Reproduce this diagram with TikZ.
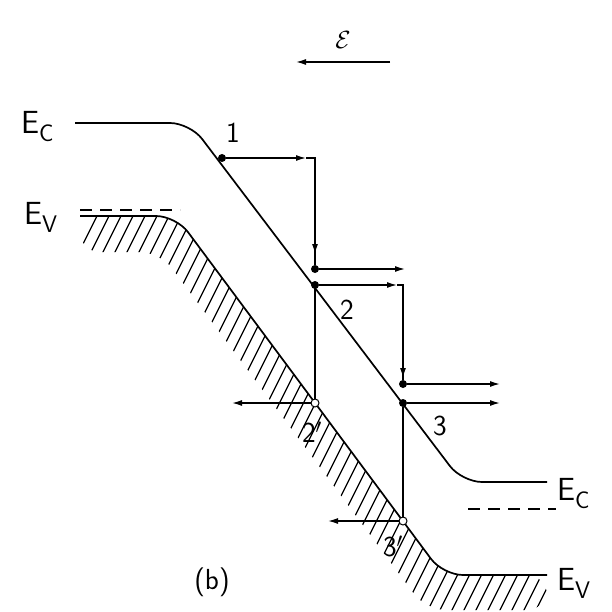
\documentclass[tikz,border=0pt]{standalone}
\usepackage{fontspec}
\usetikzlibrary{arrows.meta}
\begin{document}
\begin{tikzpicture}[
                x=1pt, y=-1pt,
                band/.style={line width=1.7pt, rounded corners=20pt},
                arr/.style={-{Latex[length=10pt,width=6pt]}, line width=1.4pt},
                link/.style={line width=1.3pt},
                hatch/.style={line width=1.2pt},
                dashline/.style={line width=1.5pt, dash pattern=on 12pt off 8pt},
                dot/.style={circle, fill, inner sep=0pt, minimum size=8pt},
                hole/.style={circle, draw, fill=white, inner sep=0pt, minimum size=8pt, line width=1pt},
                num/.style={font=\sffamily\fontsize{29}{31}\selectfont, inner sep=0pt},
                lvl/.style={font=\sffamily\fontsize{32}{34}\selectfont, inner sep=0pt, anchor=base west}
            ]
            \useasboundingbox (0,0) rectangle (612,612);
            \newcommand{\sub}[1]{\raisebox{-8pt}{\fontsize{24}{24}\selectfont #1}}
            % hatching under the valence band
            \begin{scope}
                \clip[rounded corners=20pt] (80,216) -- (176,216) -- (443,575) -- (547,575)
                    -- (547,610) -- (426,610) -- (160,252) -- (80,252) -- cycle;
                \foreach \i in {-12,...,44}
                    \draw[hatch] ({\i*12},650) -- ++(325,-650);
            \end{scope}
            % bands
            \draw[band] (75,123) -- (190,123) -- (462,482) -- (547,482);
            \draw[band] (80,216) -- (176,216) -- (443,575) -- (547,575);
            \draw[dashline] (80,210) -- (180,210);
            \draw[dashline] (468,509) -- (556,509);
            % level labels
            \node[lvl] (ectop) at (21,134) {E\sub{C}};
            \node[lvl] (evtop) at (24,224) {E\sub{V}};
            \node[lvl] (ecbot) at (557,500) {E\sub{C}};
            \node[lvl] (evbot) at (557,590) {E\sub{V}};
            % field
            \coordinate (fa) at (390,62);
            \coordinate (fb) at (296,62);
            \draw[arr] (fa) -- (fb);
            \node[font=\fontsize{32}{34}\selectfont] (field) at (343,40) {$\mathcal{E}$};
            % electrons and holes
            \node[dot] (d1) at (222,158) {};
            \node[dot] (t1) at (315,269) {};
            \node[dot] (d2) at (315,285) {};
            \node[dot] (t2) at (403,384) {};
            \node[dot] (d3) at (403,403) {};
            \node[hole] (h2) at (315,403) {};
            \node[hole] (h3) at (403,521) {};
            \coordinate (p1) at (306,158);
            \coordinate (c1) at (315,158);
            \coordinate (q1) at (315,254);
            \coordinate (p2) at (397,285);
            \coordinate (c2) at (403,285);
            \coordinate (q2) at (403,378);
            \coordinate (e1) at (405,269);
            \coordinate (e2) at (500,384);
            \coordinate (e3) at (500,403);
            \coordinate (e4) at (232,403);
            \coordinate (e5) at (328,521);
            \draw[arr] (d1) -- (p1);
            \draw[link] (p1) -- (c1) -- (q1);
            \draw[arr] (c1) -- (q1);
            \draw[link] (q1) -- (t1);
            \draw[arr] (t1) -- (e1);
            \draw[arr] (d2) -- (p2);
            \draw[link] (p2) -- (c2) -- (q2);
            \draw[arr] (c2) -- (q2);
            \draw[link] (q2) -- (t2);
            \draw[arr] (t2) -- (e2);
            \draw[arr] (d3) -- (e3);
            \draw[link] (d2) -- (h2);
            \draw[link] (d3) -- (h3);
            \draw[arr] (h2) -- (e4);
            \draw[arr] (h3) -- (e5);
            % labels
            \node[num] (n1) at (233,133) {1};
            \node[num] (n2) at (347,310) {2};
            \node[num] (n2p) at (312,432) {2$'$};
            \node[num] (n3) at (440,426) {3};
            \node[num] (n3p) at (393,546) {3$'$};
            \node[num] (cap) at (212,582) {(b)};
        \end{tikzpicture}
\end{document}
